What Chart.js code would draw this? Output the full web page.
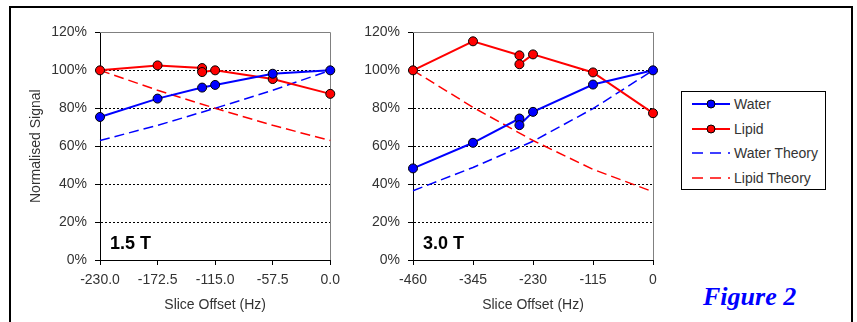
<!DOCTYPE html>
<html>
<head>
<meta charset="utf-8">
<script src="https://cdn.jsdelivr.net/npm/chart.js@4.4.0/dist/chart.umd.min.js"></script>
<style>
  body { margin: 0; background: #fff; width: 857px; height: 322px; overflow: hidden; position: relative;
         font-family: "Liberation Sans", Arial, sans-serif; }
  #frame { position: absolute; left: 9px; top: 6px; width: 844px; height: 340px; box-sizing: border-box; border: 2px solid #000; }
  canvas { position: absolute; }
  .field { position: absolute; font-weight: bold; font-size: 18px; line-height: 18px; color: #000; }
  #legend { position: absolute; left: 681px; top: 91px; width: 145px; height: 99px; box-sizing: border-box; border: 1px solid #000; background: #fff; }
  .item { position: absolute; left: 10px; height: 16px; display: flex; align-items: center; font-size: 14px; color: #333; }
  .item svg { margin-right: 3px; }
  #fig { position: absolute; left: 703px; top: 284px; font-family: "Liberation Serif", "Times New Roman", serif;
         font-weight: bold; font-style: italic; font-size: 26px; line-height: 26px; color: #0000ff; }
</style>
</head>
<body>
<div id="frame"></div>
<canvas id="chart15" width="335" height="306" style="left:12px;top:16px"></canvas>
<canvas id="chart30" width="317" height="306" style="left:350px;top:16px"></canvas>
<div class="field" style="left:110px;top:234px">1.5 T</div>
<div class="field" style="left:423px;top:234px">3.0 T</div>
<div id="legend"></div>
<div id="fig">Figure 2</div>
<script>
// 1.5 T
const ticks15 = [-230, -172.5, -115, -57.5, 0];
const waterOffsets15 = [-230, -172.5, -128, -115, -57.5, 0];
const water15 = [75.4, 85.1, 90.9, 92.3, 98.2, 100];
const lipidOffsets15 = [-230, -172.5, -128, -128, -115, -57.5, 0];
const lipid15 = [100, 102.6, 101.2, 99.1, 100, 95.4, 87.6];
const theoryOffsets15 = [-230, -172.5, -115, -57.5, 0];
const waterTheory15 = [63, 71, 80, 89.5, 100];
const lipidTheory15 = [100, 89.5, 80, 71, 63];

// 3.0 T
const ticks30 = [-460, -345, -230, -115, 0];
const waterOffsets30 = [-460, -345, -256, -256, -230, -115, 0];
const water30 = [48.3, 61.8, 74.6, 71.1, 78.1, 92.5, 100];
const lipidOffsets30 = [-460, -345, -256, -256, -230, -115, 0];
const lipid30 = [100, 115.3, 107.9, 103.2, 108.4, 98.9, 77.4];
const theoryOffsets30 = [-460, -345, -230, -115, 0];
const waterTheory30 = [36.5, 48.8, 62.6, 79.8, 100];
const lipidTheory30 = [100, 80.5, 63, 47.8, 36];

const seriesNames = ['Water', 'Lipid', 'Water Theory', 'Lipid Theory'];
const seriesColors = ['#0000ff', '#ff0000', '#0000ff', '#ff0000'];

const tickFont = { family: '"Liberation Sans", Arial, sans-serif', size: 14 };

const pts = (xs, ys) => xs.map((x, i) => ({ x, y: ys[i] }));

// grey top and right edge of the plot area
const plotFrame = {
  id: 'plotFrame',
  beforeDatasetsDraw(chart) {
    const { ctx, chartArea: a } = chart;
    ctx.save();
    ctx.strokeStyle = '#808080';
    ctx.lineWidth = 1;
    ctx.beginPath();
    ctx.moveTo(a.left, Math.round(a.top) + 0.5);
    ctx.lineTo(Math.round(a.right) + 0.5, Math.round(a.top) + 0.5);
    ctx.lineTo(Math.round(a.right) + 0.5, a.bottom);
    ctx.stroke();
    ctx.restore();
  }
};

function buildChart(id, tickValues, tickFmt, yWidth, showYTitle, data) {
  const solid = (i, d) => ({
    label: seriesNames[i], data: d, borderColor: seriesColors[i], backgroundColor: seriesColors[i],
    borderWidth: 2, pointRadius: 4.5, pointBorderColor: '#000', pointBorderWidth: 1, tension: 0, clip: false
  });
  const dashed = (i, d) => ({
    label: seriesNames[i], data: d, borderColor: seriesColors[i], borderWidth: 1.5,
    borderDash: [10, 5], pointRadius: 0, tension: 0, clip: false
  });

  return new Chart(document.getElementById(id), {
    type: 'line',
    data: {
      datasets: [
        solid(0, data[0]),
        solid(1, data[1]),
        dashed(2, data[2]),
        dashed(3, data[3])
      ]
    },
    options: {
      responsive: false,
      animation: false,
      events: [],
      layout: { padding: { top: 16, right: 14, bottom: 2, left: 0 } },
      plugins: { legend: { display: false }, tooltip: { enabled: false } },
      scales: {
        x: {
          type: 'linear',
          min: tickValues[0],
          max: 0,
          afterBuildTicks: scale => { scale.ticks = tickValues.map(v => ({ value: v })); },
          afterFit: scale => { scale.height = 60; },
          ticks: { color: '#333', font: tickFont, padding: 7, maxRotation: 0, autoSkip: false,
                   callback: v => tickFmt(v) },
          grid: { drawOnChartArea: false, tickLength: 5, color: '#000', tickColor: '#000', tickBorderDash: [] },
          border: { color: '#000', width: 1 },
          title: { display: true, text: 'Slice Offset (Hz)', color: '#333', font: tickFont, padding: { top: 0, bottom: 6.6 } }
        },
        y: {
          min: 0,
          max: 120,
          afterFit: scale => { scale.width = yWidth; },
          ticks: { stepSize: 20, color: '#333', font: tickFont, padding: 8, callback: v => v + '%' },
          grid: { color: c => (c.tick && c.tick.value === 120) ? 'rgba(0,0,0,0)' : '#000',
                  tickColor: '#000', tickLength: 5, tickBorderDash: [], lineWidth: 1 },
          border: { color: '#000', width: 1, dash: [2, 2] },
          title: { display: showYTitle, text: 'Normalised Signal', color: '#333', font: tickFont, padding: { top: 15.6, bottom: 0 } }
        }
      }
    },
    plugins: [plotFrame]
  });
}

buildChart('chart15', ticks15, v => v.toFixed(1), 88, true, [
  pts(waterOffsets15, water15),
  pts(lipidOffsets15, lipid15),
  pts(theoryOffsets15, waterTheory15),
  pts(theoryOffsets15, lipidTheory15)
]);

buildChart('chart30', ticks30, v => String(v), 63, false, [
  pts(waterOffsets30, water30),
  pts(lipidOffsets30, lipid30),
  pts(theoryOffsets30, waterTheory30),
  pts(theoryOffsets30, lipidTheory30)
]);

// legend
const legend = document.getElementById('legend');
seriesNames.forEach((name, i) => {
  const item = document.createElement('div');
  item.className = 'item';
  item.style.top = (12 + i * 24.6 - 8) + 'px';
  const c = seriesColors[i];
  const mark = i < 2
    ? `<line x1="0" y1="6" x2="38" y2="6" stroke="${c}" stroke-width="2"/><circle cx="19" cy="6" r="4" fill="${c}" stroke="#000" stroke-width="1"/>`
    : `<line x1="0" y1="6" x2="38" y2="6" stroke="${c}" stroke-width="1.5" stroke-dasharray="11 7"/>`;
  item.innerHTML = `<svg width="39" height="12">${mark}</svg><span>${name}</span>`;
  legend.appendChild(item);
});
</script>
</body>
</html>
